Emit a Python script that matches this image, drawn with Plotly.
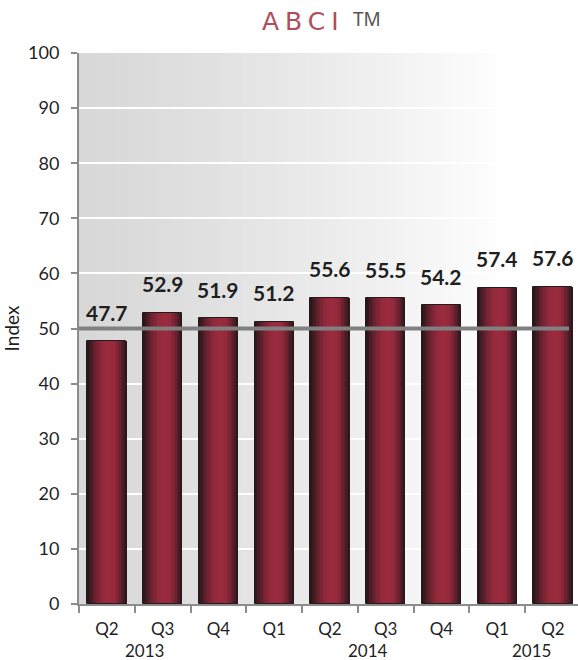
import plotly.graph_objects as go

# ---- data ----
quarters = ["Q2", "Q3", "Q4", "Q1", "Q2", "Q3", "Q4", "Q1", "Q2"]
abci_values = [47.7, 52.9, 51.9, 51.2, 55.6, 55.5, 54.2, 57.4, 57.6]
year_labels = ["2013", "2014", "2015"]
threshold = 50

# ---- style / layout constants ----
year_label_pos = [0.68, 4.68, 7.62]   # category-index positions of the year captions
FONT = "Lato"
BAR_W = 0.70
N_STRIPES = 28
DARK = (40, 22, 26)
BRIGHT = (156, 42, 62)
profile = [(0.0, 0.0), (0.1, 0.28), (0.25, 0.68), (0.4, 0.93), (0.55, 1.0),
           (0.7, 0.93), (0.82, 0.62), (0.92, 0.28), (1.0, 0.05)]


def interp_profile(t):
    for (t0, b0), (t1, b1) in zip(profile[:-1], profile[1:]):
        if t0 <= t <= t1:
            return b0 + (b1 - b0) * (t - t0) / (t1 - t0)
    return profile[-1][1]


def mix(b):
    return "rgb(%d,%d,%d)" % tuple(round(d + (br - d) * b) for d, br in zip(DARK, BRIGHT))


xs = list(range(len(abci_values)))
fig = go.Figure()

# shaded bars built from vertical stripes
sw = BAR_W / N_STRIPES
for i in range(N_STRIPES):
    t = (i + 0.5) / N_STRIPES
    w = sw * 1.6 if i < N_STRIPES - 1 else sw
    fig.add_trace(go.Bar(
        x=xs, y=abci_values, offset=-BAR_W / 2 + i * sw, width=w,
        marker=dict(color=mix(interp_profile(t)), line=dict(width=0)),
        hoverinfo="skip", showlegend=False))

# outline trace
fig.add_trace(go.Bar(
    x=xs, y=abci_values, width=BAR_W,
    marker=dict(color="rgba(0,0,0,0)", line=dict(color="#231a1c", width=1)),
    showlegend=False, hovertemplate="%{y:.1f}<extra></extra>"))

# background gradient (grey on the left fading to white)
n_bg = 60
bg_end = 0.848
for i in range(n_bg):
    s = (i + 0.5) / n_bg
    v = round(216 + 38 * s ** 1.25)
    fig.add_shape(type="rect", xref="x domain", yref="y domain",
                  x0=bg_end * i / n_bg, x1=bg_end * (i + 1) / n_bg + 0.002,
                  y0=0, y1=1, fillcolor="rgb(%d,%d,%d)" % (v, v, min(255, v + 1)),
                  line=dict(width=0), layer="below")

# 50 reference line (above bars)
fig.add_shape(type="line", xref="x domain", yref="y", x0=0, x1=0.982,
              y0=threshold, y1=threshold, line=dict(color="#808080", width=4),
              layer="above")

# value labels
for x, v in zip(xs, abci_values):
    fig.add_annotation(x=x, y=v, text="<b>%.1f</b>" % v, showarrow=False,
                       yanchor="middle", yshift=29,
                       font=dict(family=FONT, size=21, color="#1f1f1f"))

# year captions
for yl, xp in zip(year_labels, year_label_pos):
    fig.add_annotation(x=xp, xref="x", y=-0.0835, yref="paper", text=yl,
                       showarrow=False, yanchor="middle", borderpad=0,
                       font=dict(family=FONT, size=17, color="#1f1f1f"))

# title
fig.add_annotation(x=0.45, xref="paper", y=1.058, yref="paper",
                   text='<span style="letter-spacing:6px">ABCI</span>',
                   showarrow=False, xanchor="center", yanchor="middle",
                   font=dict(family="DejaVu Sans", size=25, color="#b04d5b"))
fig.add_annotation(x=0.546, xref="paper", y=1.061, yref="paper", text="TM",
                   showarrow=False, xanchor="left", yanchor="middle",
                   font=dict(family="Noto Sans", size=19, color="#555555"))

fig.update_layout(
    width=578, height=660,
    margin=dict(l=79, r=0, t=53, b=56),
    paper_bgcolor="white", plot_bgcolor="white",
    barmode="overlay", bargap=0,
    font=dict(family=FONT, size=18, color="#1f1f1f"),
    xaxis=dict(
        range=[-0.5, 8.45], tickmode="array", tickvals=xs, ticktext=quarters,
        ticks="", showgrid=False, zeroline=False,
        showline=True, linecolor="#8c8c8c", linewidth=2,
        ticklabelstandoff=9,
        tickfont=dict(family=FONT, size=17, color="#1f1f1f"),
        minor=dict(tickmode="array", tickvals=[i - 0.5 for i in range(len(xs) + 1)],
                   ticks="outside", ticklen=7, tickcolor="#8c8c8c", tickwidth=1.5,
                   showgrid=False),
    ),
    yaxis=dict(
        range=[0, 100], dtick=10, tick0=0,
        ticks="outside", ticklen=6, tickcolor="#8c8c8c", tickwidth=1.5,
        showline=True, linecolor="#8c8c8c", linewidth=2,
        showgrid=True, gridcolor="white", gridwidth=1.5, zeroline=False,
        ticklabelstandoff=8,
        tickfont=dict(family=FONT, size=18, color="#1f1f1f"),
        title=dict(text="Index", standoff=10,
                   font=dict(family=FONT, size=19, color="#1f1f1f")),
    ),
)

fig.write_html("out.html")
